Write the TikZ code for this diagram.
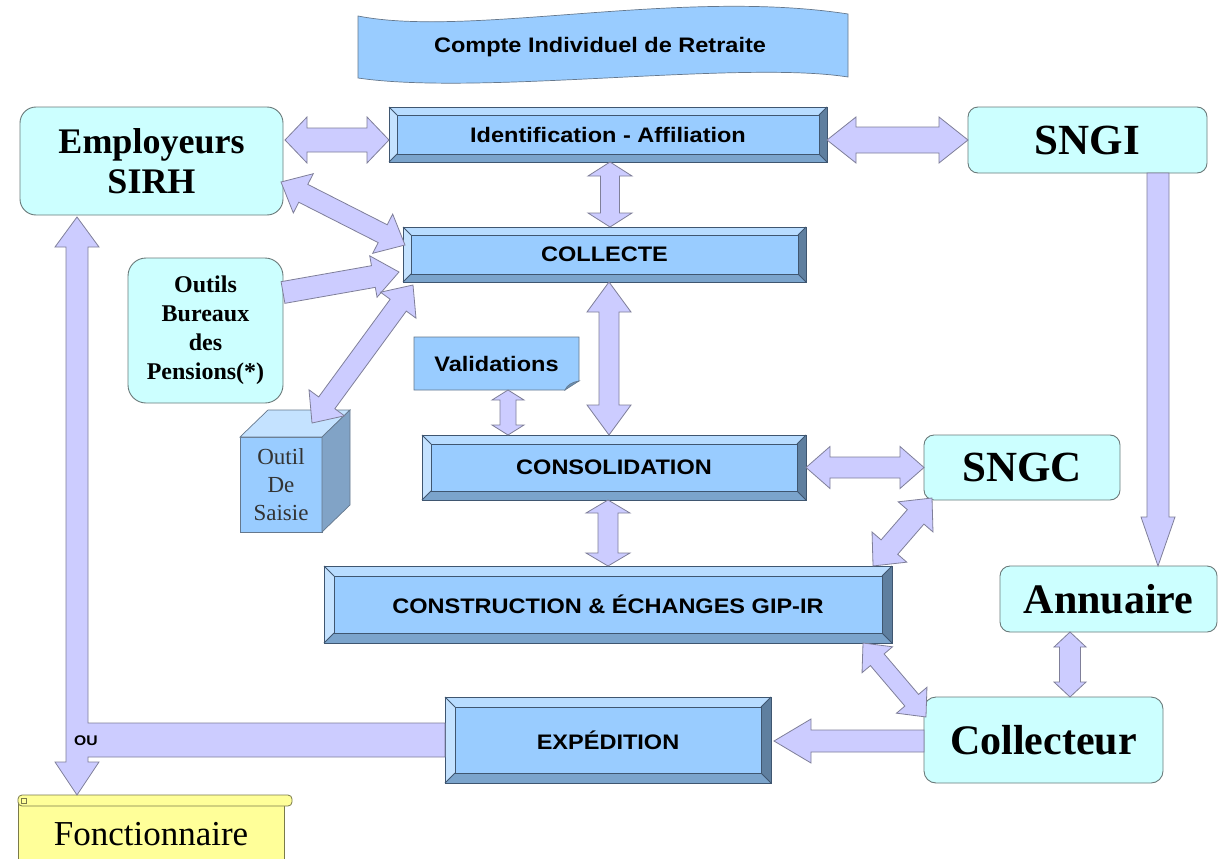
\documentclass[tikz,border=0pt]{standalone}
\usepackage{fontspec}
\setmainfont{Liberation Serif}
\setsansfont{Liberation Sans}[FakeStretch=1.12]
\usetikzlibrary{calc}

\definecolor{arrfill}{HTML}{CCCCFF}
\definecolor{arrline}{HTML}{7F7F99}
\definecolor{cyanbox}{HTML}{CCFFFF}
\definecolor{boxline}{HTML}{6A7A7A}
\definecolor{face}{HTML}{99CCFF}
\definecolor{bevT}{HTML}{B8DCFF}
\definecolor{bevL}{HTML}{C4E2FF}
\definecolor{bevB}{HTML}{7BA4CC}
\definecolor{bevR}{HTML}{5F7F9F}
\definecolor{bevlinecol}{HTML}{3F5670}
\definecolor{scroll}{HTML}{FFFF99}
\definecolor{scrollline}{HTML}{7A7A4A}

\tikzset{
  rbox/.style={draw=boxline, line width=0.9pt, fill=cyanbox, rounded corners=#1, outer sep=0pt, inner sep=0pt, align=center},
  rbox/.default=10pt,
  bev/.style={fill=face, outer sep=0pt, inner sep=0pt, font=\sffamily\bfseries\fontsize{21}{25}\selectfont},
  bevedge/.style={draw=bevlinecol, line width=0.8pt},
  barr/.style={draw=arrline, fill=arrfill, line width=0.8pt, line join=miter},
}

\newcommand\bevelize[2]{%
  \fill[bevT] (#1.north west) -- (#1.north east) -- ($(#1.north east)+(-#2,#2)$) -- ($(#1.north west)+(#2,#2)$) -- cycle;
  \fill[bevB] (#1.south west) -- (#1.south east) -- ($(#1.south east)+(-#2,-#2)$) -- ($(#1.south west)+(#2,-#2)$) -- cycle;
  \fill[bevL] (#1.north west) -- ($(#1.north west)+(#2,#2)$) -- ($(#1.south west)+(#2,-#2)$) -- (#1.south west) -- cycle;
  \fill[bevR] (#1.north east) -- ($(#1.north east)+(-#2,#2)$) -- ($(#1.south east)+(-#2,-#2)$) -- (#1.south east) -- cycle;
  \draw[bevedge] (#1.north west) rectangle (#1.south east);
  \draw[bevedge] ($(#1.north west)+(#2,#2)$) rectangle ($(#1.south east)+(-#2,-#2)$);
  \draw[bevedge] (#1.north west) -- ++(#2,#2) (#1.north east) -- ++(-#2,#2)
                 (#1.south west) -- ++(#2,-#2) (#1.south east) -- ++(-#2,-#2);
}

% #1 from, #2 to, #3 shaft half width, #4 head half width, #5 head length, #6 2=double 1=single
\newcommand\blockarrow[6]{%
  \path #1 coordinate (baS) #2 coordinate (baE);
  \pgfpointdiff{\pgfpointanchor{baS}{center}}{\pgfpointanchor{baE}{center}}%
  \pgfgetlastxy{\baDx}{\baDy}%
  \pgfmathsetmacro\baAng{atan2(\baDy,\baDx)}%
  \pgfmathsetmacro\baLen{veclen(\baDx,\baDy)}%
  \begin{scope}[shift={(baS)}, rotate=\baAng, x=1pt, y=1pt]
  \ifnum#6=2
    \draw[barr] (0,0) -- (#5,#4) -- (#5,#3) -- (\baLen-#5,#3) -- (\baLen-#5,#4) -- (\baLen,0)
      -- (\baLen-#5,-#4) -- (\baLen-#5,-#3) -- (#5,-#3) -- (#5,-#4) -- cycle;
  \else
    \draw[barr] (0,#3) -- (\baLen-#5,#3) -- (\baLen-#5,#4) -- (\baLen,0)
      -- (\baLen-#5,-#4) -- (\baLen-#5,-#3) -- (0,-#3) -- cycle;
  \fi
  \end{scope}
}

\begin{document}
\begin{tikzpicture}[x=1pt,y=-1pt]
\useasboundingbox (0,0) rectangle (1223,859);
\clip (0,0) rectangle (1223,859);
\fill[white] (0,0) rectangle (1223,859);

% banner
\draw[draw=bevlinecol!80, fill=face, line width=0.7pt]
  (358,16) .. controls (470,38) and (680,-12) .. (848,14) -- (848,77)
  .. controls (740,60) and (480,96) .. (358,78) -- cycle;
\node[font=\sffamily\bfseries\fontsize{21}{25}\selectfont] (banner) at (600,47) {Compte Individuel de Retraite};

% rounded boxes
\node[rbox=16pt, minimum width=263pt, minimum height=108pt, font=\bfseries\fontsize{36}{40}\selectfont] (emp) at (151.5,161) {Employeurs\\SIRH};
\node[rbox=18pt, minimum width=155pt, minimum height=145pt, font=\bfseries\fontsize{24}{29}\selectfont] (outils) at (205.5,330.5) {Outils\\Bureaux\\des\\Pensions(*)};
\node[rbox, minimum width=239pt, minimum height=66pt, font=\bfseries\fontsize{43}{46}\selectfont] (sngi) at (1087.5,140) {SNGI};
\node[rbox, minimum width=196pt, minimum height=65pt, font=\bfseries\fontsize{43}{46}\selectfont] (sngc) at (1022,467.5) {SNGC};
\node[rbox, minimum width=217pt, minimum height=66pt, font=\bfseries\fontsize{42}{46}\selectfont] (annu) at (1108.5,599) {Annuaire};
\node[rbox=12pt, minimum width=239pt, minimum height=86pt, font=\bfseries\fontsize{42}{46}\selectfont] (coll) at (1043.5,740) {Collecteur};

% bevel boxes
\node[bev, minimum width=438pt, minimum height=55pt] (ident) at (608,134.5) {};
\bevelize{ident}{8}
\node[font=\sffamily\bfseries\fontsize{21}{25}\selectfont] at (ident.center) {Identification - Affiliation};
\node[bev, minimum width=403pt, minimum height=55pt] (collecte) at (604.5,254.5) {};
\bevelize{collecte}{8}
\node[font=\sffamily\bfseries\fontsize{21}{25}\selectfont] at (collecte.center) {COLLECTE};
\node[bev, minimum width=384pt, minimum height=65pt] (consol) at (614,467.5) {};
\bevelize{consol}{9}
\node[font=\sffamily\bfseries\fontsize{21}{25}\selectfont] at (consol.center) {CONSOLIDATION};
\node[bev, minimum width=568pt, minimum height=77pt] (constr) at (608,604.5) {};
\bevelize{constr}{10}
\node[font=\sffamily\bfseries\fontsize{21}{25}\selectfont] at (constr.center) {CONSTRUCTION \& ÉCHANGES GIP-IR};
\node[bev, minimum width=326pt, minimum height=86pt] (exped) at (608,740) {};
\bevelize{exped}{10}
\node[font=\sffamily\bfseries\fontsize{21}{25}\selectfont] at (exped.center) {EXPÉDITION};

% Validations
\draw[draw=bevlinecol!80, fill=face, line width=0.7pt]
  (414,337) -- (579,337) -- (579,381) .. controls (574,383) and (569,385) .. (565,390) -- (414,390) -- cycle;
\draw[draw=bevlinecol!80, fill=face!70!black, line width=0.6pt] (565,390) .. controls (567,385) and (572,382) .. (579,381) -- cycle;
\node[font=\sffamily\bfseries\fontsize{21}{25}\selectfont, minimum width=165pt, minimum height=53pt, inner sep=0pt, outer sep=0pt] (valid) at (496.5,363.5) {Validations};

% cube
\node[draw=bevlinecol!80, fill=face, line width=0.7pt, minimum width=82pt, minimum height=95pt, inner sep=0pt, outer sep=0pt, align=center, text=black!80, font=\fontsize{23}{28}\selectfont] (saisie) at (281,484.5) {Outil\\De\\Saisie};
\draw[draw=bevlinecol!80, fill=bevL, line width=0.7pt] (saisie.north west) -- ++(28,-27) -- ++(82,0) -- (saisie.north east) -- cycle;
\draw[draw=bevlinecol!80, fill=face!75!black!90, line width=0.7pt] (saisie.north east) -- ++(28,-27) -- ++(0,95) -- (saisie.south east) -- cycle;

% Fonctionnaire scroll
\node[draw=scrollline, fill=scroll, line width=0.8pt, minimum width=266pt, minimum height=80pt, anchor=north west, inner sep=0pt, outer sep=0pt, font=\fontsize{35}{40}\selectfont] (fonc) at (18,804) {\raisebox{21pt}{Fonctionnaire}};
\draw[draw=scrollline, fill=scroll, line width=0.8pt, rounded corners=4pt] ($(fonc.north west)+(0,-9)$) rectangle ($(fonc.north east)+(8,2)$);
\draw[draw=scrollline, line width=0.5pt] ($(fonc.north west)+(3,-6)$) rectangle ++(5,5);

% arrows
\blockarrow{($(emp.north east)+(2,33)$)}{($(ident.west)+(0,5.5)$)}{12}{23}{22}{2}
\blockarrow{(ident.east |- sngi.west)}{(sngi.west)}{13}{23}{29}{2}
\blockarrow{($(ident.south)+(2,0)$)}{($(collecte.north)+(5.5,0)$)}{9.5}{22}{14}{2}
\blockarrow{($(emp.north east)+(-2,75)$)}{($(collecte.north west)+(2,18)$)}{10}{22}{25}{2}
\blockarrow{($(outils.east)+(0,-38)$)}{($(collecte.south west)+(-4,-10)$)}{11}{21}{26}{1}
\blockarrow{($(collecte.south west)+(10,3)$)}{($(saisie.north east)+(-10,-14)$)}{10}{22}{25}{2}
\blockarrow{($(collecte.south)+(4.5,0)$)}{($(consol.north)+(-5,0)$)}{10}{22}{30}{2}
\blockarrow{($(valid.south)+(11.5,0)$)}{($(consol.north west)+(86,0)$)}{8}{16}{10}{2}
\blockarrow{(consol.east)}{(sngc.west)}{10.5}{21}{24}{2}
\blockarrow{($(consol.south)+(-6,0)$)}{(constr.north)}{10}{22}{13}{2}
\blockarrow{($(sngc.south west)+(8,-2)$)}{($(constr.north east)+(-19,0)$)}{11}{23}{25}{2}
\blockarrow{($(sngi.south)+(70.5,0)$)}{($(annu.north)+(49.5,0)$)}{11}{17}{49}{1}
\blockarrow{($(annu.south west)+(70,0)$)}{($(coll.north west)+(146,0)$)}{10.5}{16}{15}{2}
\blockarrow{($(constr.south east)+(-29,0)$)}{($(coll.north west)+(2,20)$)}{9}{20}{22}{2}
\blockarrow{($(coll.west)+(0,1)$)}{($(exped.east)+(3,1)$)}{11}{22}{37}{1}

% L-shaped arrow from EXPEDITION
\coordinate (upTip) at ($(emp.south west)+(57,2)$);
\coordinate (downTip) at ($(fonc.north west)+(59,-9)$);
\draw[barr] (upTip) -- ++(22,30) -- ++(-11,0) -- ($(exped.west)+(-357,-17)$) -- ($(exped.west)+(0,-17)$)
  -- ($(exped.west)+(0,17)$) -- ($(exped.west)+(-357,17)$) -- ($(downTip)+(11,-33)$) -- ($(downTip)+(22,-33)$)
  -- (downTip) -- ($(downTip)+(-22,-33)$) -- ($(downTip)+(-11,-33)$) -- ($(upTip)+(-11,30)$) -- ($(upTip)+(-22,30)$) -- cycle;
\node[font=\sffamily\bfseries\fontsize{14}{14}\selectfont] (ou) at (86,741) {OU};
\end{tikzpicture}
\end{document}
